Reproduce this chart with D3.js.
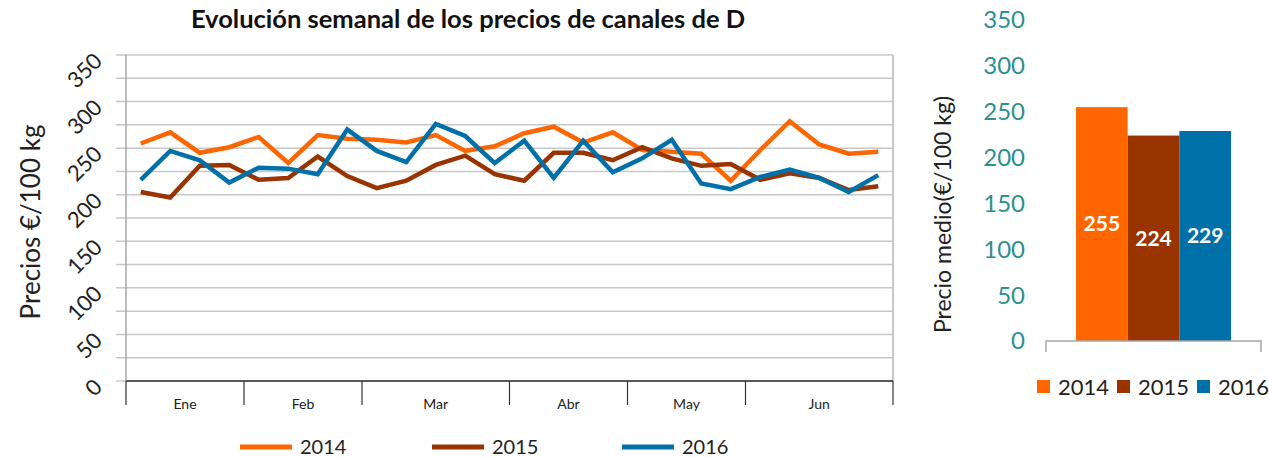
<!DOCTYPE html>
<meta charset="utf-8">
<script src="https://d3js.org/d3.v7.min.js"></script>
<style>
  body { margin: 0; background: #fff; }
  text { font-family: Lato, "Open Sans", sans-serif; }
</style>
<div id="chart"></div>
<script>
    // datos
    const months = ["Ene", "Feb", "Mar", "Abr", "May", "Jun"];
    const weeksPerMonth = [4, 4, 5, 4, 4, 5];
    const years = ["2014", "2015", "2016"];
    const prices2014 = [255, 267, 245, 251, 262, 234, 264, 260, 259, 256, 264, 247, 252, 266, 273, 256, 267, 248, 246, 244, 215, 248, 279, 254, 244, 246];
    const prices2015 = [203, 197, 231, 232, 216, 218, 241, 220, 207, 215, 232, 242, 222, 215, 245, 245, 237, 251, 239, 231, 233, 216, 223, 218, 205, 209];
    const prices2016 = [216, 247, 237, 213, 229, 228, 222, 270, 247, 235, 276, 263, 234, 258, 218, 258, 224, 239, 259, 212, 206, 219, 227, 218, 203, 221];
    const averages = [255, 224, 229];
    const yTickLabels = [0, 50, 100, 150, 200, 250, 300, 350];
    const colors = ["#ff6600", "#993300", "#0070a8"];

    const svg = d3.select("#chart")
      .append("svg")
        .attr("width", 1269)
        .attr("height", 458);

    // ---------- gráfico de líneas ----------
    const pLeft = 126, pRight = 893, pTop = 55, pBottom = 381;
    const nWeeks = d3.sum(weeksPerMonth);

    const x = d3.scaleBand()
        .domain(d3.range(nWeeks))
        .range([pLeft, pRight]);
    const y = d3.scaleLinear()
        .domain([0, 350])
        .range([pBottom, pTop]);

    svg.append("text")
        .attr("x", 468).attr("y", 28)
        .attr("text-anchor", "middle")
        .attr("font-size", 25.5).attr("font-weight", "bold")
        .attr("fill", "#111")
        .text("Evolución semanal de los precios de canales de D");

    // rejilla
    svg.append("g")
      .selectAll("line")
      .data(d3.range(0, 351, 25))
      .join("line")
        .attr("x1", pLeft - 10).attr("x2", pRight)
        .attr("y1", d => y(d)).attr("y2", d => y(d))
        .attr("stroke", "#c8c8c8")
        .attr("stroke-width", 1.5);

    svg.append("line")
        .attr("x1", pLeft).attr("x2", pLeft).attr("y1", pTop).attr("y2", pBottom)
        .attr("stroke", "#a6a6a6").attr("stroke-width", 1.5);
    svg.append("line")
        .attr("x1", pRight).attr("x2", pRight).attr("y1", pTop).attr("y2", pBottom)
        .attr("stroke", "#c8c8c8").attr("stroke-width", 2);

    svg.append("g")
      .selectAll("text")
      .data(yTickLabels)
      .join("text")
        .attr("transform", d => `translate(98, ${y(d) + 2}) rotate(-45)`)
        .attr("text-anchor", "end")
        .attr("dy", "0.35em")
        .attr("font-size", 22)
        .attr("fill", "#222")
        .text(d => d);

    svg.append("text")
        .attr("transform", `translate(40, ${(pTop + pBottom) / 2 + 4}) rotate(-90)`)
        .attr("text-anchor", "middle")
        .attr("font-size", 26)
        .attr("fill", "#222")
        .text("Precios €/100 kg");

    // eje x por meses
    const bounds = [0];
    weeksPerMonth.forEach(w => bounds.push(bounds[bounds.length - 1] + w));
    const bx = i => i < nWeeks ? x(i) : pRight;

    svg.append("line")
        .attr("x1", pLeft).attr("x2", pRight).attr("y1", pBottom).attr("y2", pBottom)
        .attr("stroke", "#595959").attr("stroke-width", 2);
    svg.append("g")
      .selectAll("line")
      .data(bounds)
      .join("line")
        .attr("x1", d => bx(d)).attr("x2", d => bx(d))
        .attr("y1", pBottom).attr("y2", pBottom + 24)
        .attr("stroke", "#333").attr("stroke-width", 1.2);
    svg.append("g")
      .selectAll("text")
      .data(months)
      .join("text")
        .attr("x", (d, i) => (bx(bounds[i]) + bx(bounds[i + 1])) / 2)
        .attr("y", 409)
        .attr("text-anchor", "middle")
        .attr("font-size", 14)
        .attr("fill", "#222")
        .text(d => d);

    const line = d3.line()
        .x((d, i) => x(i) + x.bandwidth() / 2)
        .y(d => y(d));

    svg.append("g")
      .selectAll("path")
      .data([prices2014, prices2015, prices2016])
      .join("path")
        .attr("fill", "none")
        .attr("stroke", (d, i) => colors[i])
        .attr("stroke-width", 4.5)
        .attr("stroke-linejoin", "miter")
        .attr("d", line);

    // leyenda inferior
    const legX = [240, 432, 622];
    const leg = svg.append("g")
      .selectAll("g")
      .data(years)
      .join("g")
        .attr("transform", (d, i) => `translate(${legX[i]}, 447)`);
    leg.append("line")
        .attr("x1", 0).attr("x2", 52)
        .attr("stroke", (d, i) => colors[i])
        .attr("stroke-width", 5);
    leg.append("text")
        .attr("x", 60).attr("dy", "0.35em")
        .attr("font-size", 20)
        .attr("fill", "#222")
        .text(d => d);

    // ---------- gráfico de barras ----------
    const bBottom = 341, bTop = 20;
    const xb = d3.scaleBand()
        .domain(years)
        .range([1046, 1261])
        .paddingInner(0)
        .paddingOuter(0.58);
    const yb = d3.scaleLinear()
        .domain([0, 350])
        .range([bBottom, bTop]);

    svg.append("g")
      .selectAll("text")
      .data(yTickLabels)
      .join("text")
        .attr("x", 1025)
        .attr("y", d => yb(d))
        .attr("dy", "0.35em")
        .attr("text-anchor", "end")
        .attr("font-size", 24)
        .attr("fill", "#2a9090")
        .text(d => d);

    svg.append("text")
        .attr("transform", `translate(951, ${(bTop + bBottom) / 2 + 34}) rotate(-90)`)
        .attr("text-anchor", "middle")
        .attr("font-size", 23)
        .attr("fill", "#222")
        .text("Precio medio(€/100 kg)");

    svg.append("g")
      .selectAll("rect")
      .data(averages)
      .join("rect")
        .attr("x", (d, i) => xb(years[i]))
        .attr("width", xb.bandwidth())
        .attr("y", d => yb(d))
        .attr("height", d => bBottom - yb(d))
        .attr("fill", (d, i) => colors[i]);

    svg.append("g")
      .selectAll("text")
      .data(averages)
      .join("text")
        .attr("x", (d, i) => xb(years[i]) + xb.bandwidth() / 2)
        .attr("y", d => (yb(d) + bBottom) / 2)
        .attr("dy", "0.35em")
        .attr("text-anchor", "middle")
        .attr("font-size", 21).attr("font-weight", "bold")
        .attr("fill", "#fff")
        .text(d => d);

    svg.append("path")
        .attr("d", `M1046,352V${bBottom}H1261V352`)
        .attr("fill", "none")
        .attr("stroke", "#a6a6a6").attr("stroke-width", 1.5);

    const legB = svg.append("g")
      .selectAll("g")
      .data(years)
      .join("g")
        .attr("transform", (d, i) => `translate(${1037 + i * 80}, 387)`);
    legB.append("rect")
        .attr("x", 0).attr("y", -7)
        .attr("width", 13).attr("height", 13)
        .attr("fill", (d, i) => colors[i]);
    legB.append("text")
        .attr("x", 21).attr("dy", "0.35em")
        .attr("font-size", 22)
        .attr("fill", "#222")
        .text(d => d);
</script>
